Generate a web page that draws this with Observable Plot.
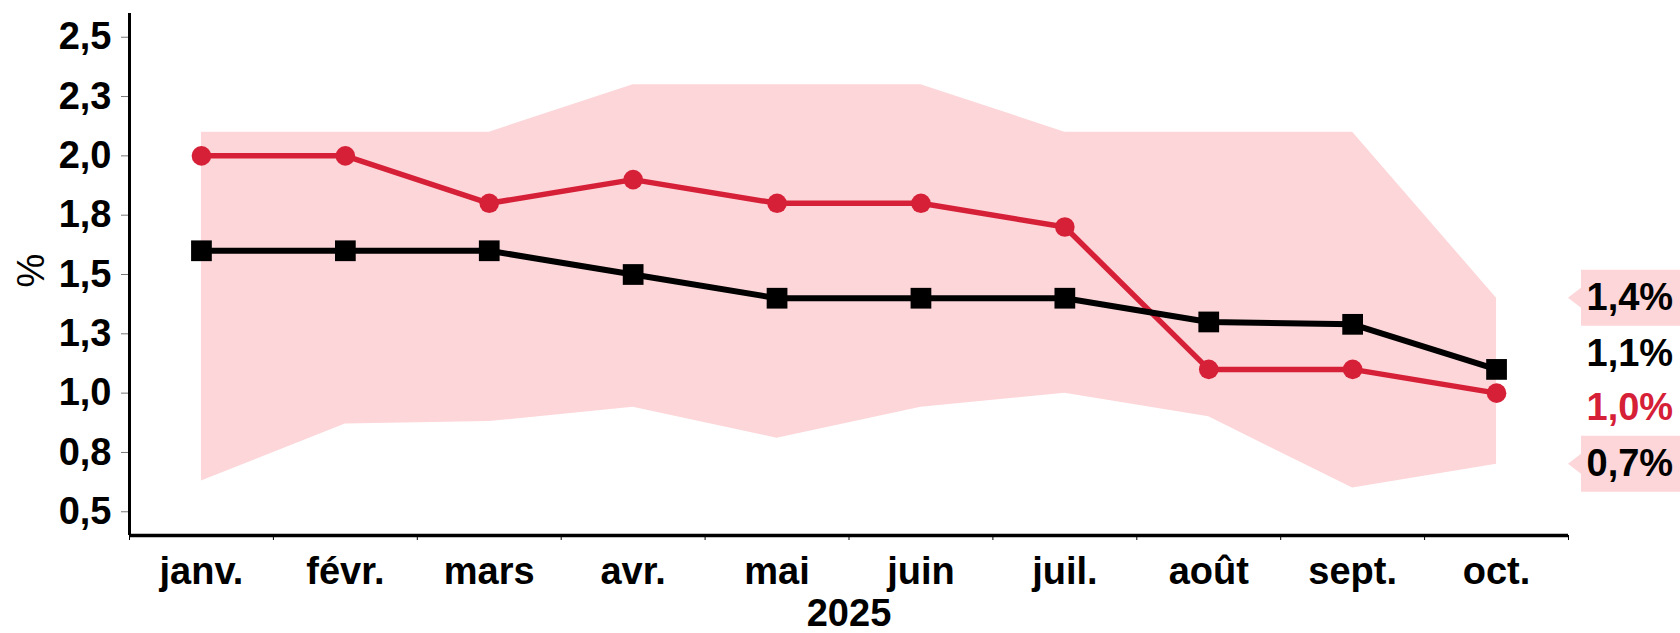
<!DOCTYPE html>
<html>
<head>
<meta charset="utf-8">
<script src="https://cdn.jsdelivr.net/npm/d3@7"></script>
<script src="https://cdn.jsdelivr.net/npm/@observablehq/plot@0.6"></script>
<style>
  html, body { margin: 0; padding: 0; background: #fff; }
  #chart svg { display: block; }
</style>
</head>
<body>
<div id="chart"></div>
<script>
// ---- data ----
const months = ["janv.", "févr.", "mars", "avr.", "mai", "juin", "juil.", "août", "sept.", "oct."];
const redValues = [2.0, 2.0, 1.8, 1.9, 1.8, 1.8, 1.7, 1.1, 1.1, 1.0];
const blackValues = [1.6, 1.6, 1.6, 1.5, 1.4, 1.4, 1.4, 1.3, 1.29, 1.1];
const bandUpper = [2.1, 2.1, 2.1, 2.3, 2.3, 2.3, 2.1, 2.1, 2.1, 1.4];
const bandLower = [0.63, 0.87, 0.88, 0.94, 0.81, 0.94, 1.0, 0.9, 0.6, 0.7];
const yTicks = [0.5, 0.75, 1.0, 1.25, 1.5, 1.75, 2.0, 2.25, 2.5];
const endLabels = ["1,4%", "1,1%", "1,0%", "0,7%"];
const endValues = [1.4, 1.1, 1.0, 0.7];
const endBoxed = [true, false, false, true];
const yearLabel = "2025";
const yLabel = "%";

// ---- styles ----
const RED = "#d62037";
const PINK = "#fdd6d9";
const endColors = ["black", "black", RED, "black"];
const endShift = [0, -16, 15, 0];

const data = months.map((m, i) => ({
  i, m, red: redValues[i], black: blackValues[i], lo: bandLower[i], hi: bandUpper[i]
}));
const idx = months.map((_, i) => i);
const bounds = d3.range(months.length + 1).map(i => i - 0.5);
const fmt = d => d.toFixed(1).replace(".", ",");
const last = months.length - 0.5;

// callout boxes drawn through the scales
function callouts(index, scales) {
  const g = d3.create("svg:g");
  const x0 = scales.x(last);
  endLabels.forEach((t, k) => {
    if (!endBoxed[k]) return;
    const y = scales.y(endValues[k]);
    const left = x0 + 13, right = x0 + 120, h = 28;
    g.append("path")
      .attr("fill", PINK)
      .attr("d", `M${x0},${y} L${left},${y - 10} L${left},${y - h} L${right},${y - h} L${right},${y + h} L${left},${y + h} L${left},${y + 10} Z`);
  });
  return g.node();
}

const endData = endLabels.map((t, k) => ({t, v: endValues[k], c: endColors[k], s: endShift[k]}));

const chart = Plot.plot({
  width: 1680,
  height: 633,
  marginLeft: 129,
  marginRight: 112,
  marginTop: 13,
  marginBottom: 98,
  style: {fontFamily: "'Liberation Sans', Arial, sans-serif", fontSize: "37px", fontWeight: "bold", background: "#fff"},
  x: {type: "linear", domain: [-0.5, last], label: null, axis: null},
  y: {domain: [0.4, 2.6], label: null, axis: null},
  marks: [
    Plot.areaY(data, {x: "i", y1: "lo", y2: "hi", fill: PINK, curve: "linear"}),
    callouts,
    Plot.axisY(yTicks, {tickSize: 8, tickPadding: 10, tickFormat: fmt, stroke: "#777", strokeWidth: 1, fill: "black", fontSize: 38}),
    Plot.axisX(bounds, {tickSize: 5, tickFormat: () => "", stroke: "black", strokeWidth: 1}),
    Plot.axisX(idx, {tickSize: 0, tickPadding: 22, tickFormat: i => months[i], fill: "black", fontSize: 38}),
    Plot.ruleX([-0.5], {stroke: "black", strokeWidth: 3}),
    Plot.ruleY([0.4], {stroke: "black", strokeWidth: 3.5}),
    Plot.line(data, {x: "i", y: "red", stroke: RED, strokeWidth: 5.5}),
    Plot.line(data, {x: "i", y: "black", stroke: "black", strokeWidth: 6}),
    Plot.dot(data, {x: "i", y: "red", r: 9.8, fill: RED, stroke: null}),
    Plot.dot(data, {x: "i", y: "black", r: 11.7, symbol: "square", fill: "black", stroke: null}),
    Plot.text([yearLabel], {frameAnchor: "bottom", dy: 78, lineAnchor: "middle", textAnchor: "middle", fontSize: 38, fontWeight: "bold", fill: "black"}),
    Plot.text([yLabel], {frameAnchor: "left", dx: -98, dy: -4, rotate: -90, textAnchor: "middle", lineAnchor: "middle", fontSize: 38, fontWeight: "normal", fill: "black"}),
    ...endData.map(d =>
      Plot.text([d], {x: () => last, y: "v", text: "t", fill: d.c, dx: 18, dy: d.s, textAnchor: "start", lineAnchor: "middle", fontSize: 38, fontWeight: "bold"})
    )
  ]
});
document.getElementById("chart").appendChild(chart);
</script>
</body>
</html>
